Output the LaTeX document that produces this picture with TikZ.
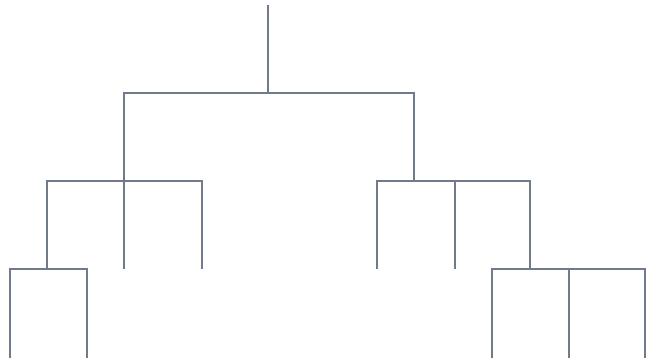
\documentclass[tikz,border=0pt]{standalone}
\begin{document}
\begin{tikzpicture}[x=1pt,y=-1pt,
  branch/.style={draw=edgecol,line width=2.2pt,line cap=butt,line join=miter}]
\definecolor{edgecol}{RGB}{112,122,138}
\useasboundingbox (0,0) rectangle (648,361);
% coordinates
\coordinate (top) at (268,5);
\coordinate (r) at (268,93);
\coordinate (a) at (124,93);
\coordinate (b) at (414,93);
\coordinate (a1) at (124,181);
\coordinate (b1) at (414,181);
\coordinate (aL) at (47,181);
\coordinate (aR) at (202,181);
\coordinate (bL) at (377,181);
\coordinate (bM) at (455,181);
\coordinate (bR) at (530,181);
\coordinate (aLe) at (47,269);
\coordinate (aMe) at (124,269);
\coordinate (aRe) at (202,269);
\coordinate (bLe) at (377,269);
\coordinate (bMe) at (455,269);
\coordinate (bRe) at (530,269);
\coordinate (c1) at (10,269);
\coordinate (c2) at (87,269);
\coordinate (d1) at (492,269);
\coordinate (d2) at (569,269);
\coordinate (d3) at (645,269);
\coordinate (c1e) at (10,358);
\coordinate (c2e) at (87,358);
\coordinate (d1e) at (492,358);
\coordinate (d2e) at (569,358);
\coordinate (d3e) at (645,358);
% root
\draw[branch] (top) -- (r);
\draw[branch] (a1) -- (a) -- (b) -- (b1);
% left subtree
\draw[branch] (aLe) -- (aL) -- (aR) -- (aRe);
\draw[branch] (a1) -- (aMe);
\draw[branch] (c1e) -- (c1) -- (c2) -- (c2e);
\draw[branch] (aLe) -- (c1);
% right subtree
\draw[branch] (bLe) -- (bL) -- (bR) -- (bRe);
\draw[branch] (bM) -- (bMe);
\draw[branch] (d1e) -- (d1) -- (d3) -- (d3e);
\draw[branch] (d2) -- (d2e);
\end{tikzpicture}
\end{document}
